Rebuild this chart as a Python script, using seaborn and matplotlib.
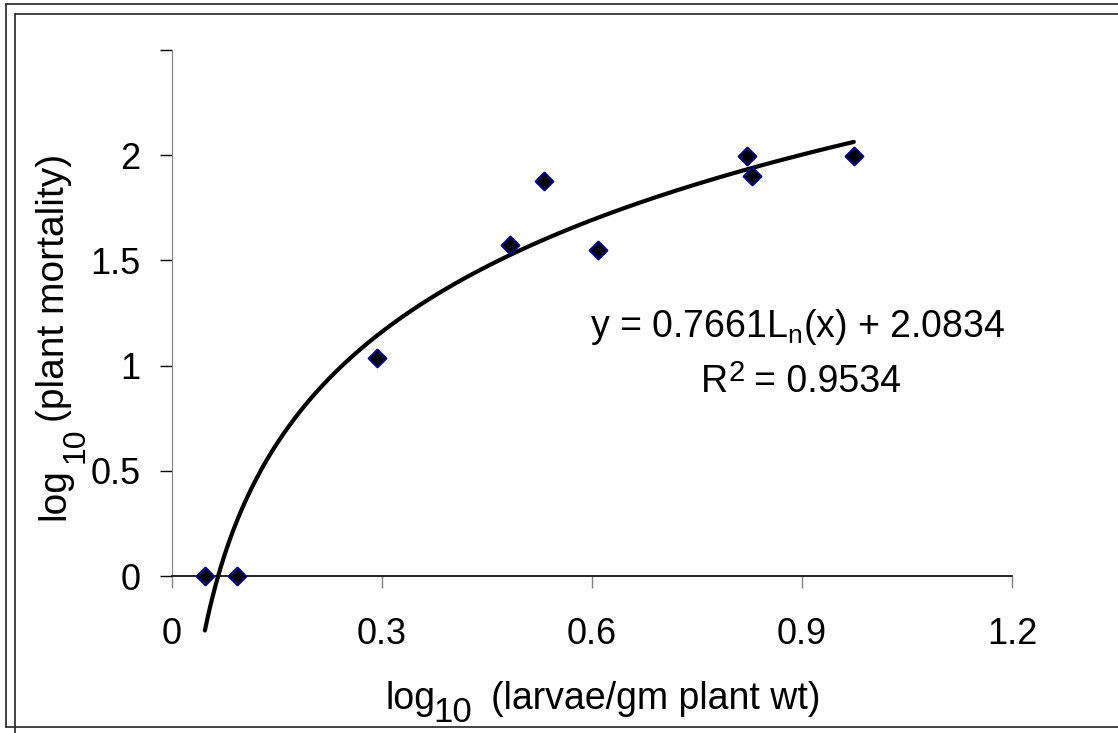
import matplotlib
matplotlib.use("Agg")
import matplotlib.pyplot as plt
from matplotlib.lines import Line2D
import numpy as np
import pandas as pd
import seaborn as sns

# values
log_larvae = [0.047, 0.093, 0.293, 0.483, 0.531, 0.609, 0.821, 0.829, 0.974]
log_mortality = [0.0, 0.0, 1.036, 1.572, 1.876, 1.549, 1.995, 1.90, 1.995]
slope = 0.7661
intercept = 2.0834
r_squared = 0.9534
x_ticks = [0, 0.3, 0.6, 0.9, 1.2]
x_tick_labels = ['0', '0.3', '0.6', '0.9', '1.2']
y_ticks = [0, 0.5, 1, 1.5, 2, 2.5]
y_tick_labels = ['0', '0.5', '1', '1.5', '2', '']

df = pd.DataFrame({'x': log_larvae, 'y': log_mortality})

sns.set_style('white')
plt.rcParams['font.family'] = ['Liberation Sans', 'DejaVu Sans']
plt.rcParams['mathtext.fontset'] = 'custom'
plt.rcParams['mathtext.rm'] = 'Liberation Sans'
plt.rcParams['mathtext.it'] = 'Liberation Sans'
plt.rcParams['text.color'] = 'black'

W, H = 1118, 733
fig = plt.figure(figsize=(W / 100, H / 100), dpi=100)
ax = fig.add_axes([172 / W, 1 - 576 / H, 840 / W, 526 / H])

# logarithmic trendline over the data range
xs = np.linspace(min(log_larvae), max(log_larvae), 300)
trend = pd.DataFrame({'x': xs, 'y': slope * np.log(xs) + intercept})
sns.lineplot(data=trend, x='x', y='y', ax=ax, color='black', linewidth=3.0,
             clip_on=False, zorder=2)

sns.scatterplot(data=df, x='x', y='y', ax=ax, marker='D', s=80,
                color='black', edgecolor='#000080', linewidth=1.6,
                clip_on=False, zorder=3)

ax.set_xlim(0, 1.2)
ax.set_ylim(0, 2.5)
ax.set_xticks(x_ticks)
ax.set_xticklabels(x_tick_labels)
ax.set_yticks(y_ticks)
ax.set_yticklabels(y_tick_labels)
ax.set_xlabel('')
ax.set_ylabel('')
ax.tick_params(axis='both', labelsize=26, direction='out', length=8.6, width=1,
               bottom=True, left=True)
ax.tick_params(axis='x', colors='#808080', labelcolor='black', pad=21)
ax.tick_params(axis='y', colors='black', labelcolor='black', pad=14)

for side in ['top', 'right']:
    ax.spines[side].set_visible(False)
ax.spines['left'].set_color('#808080')
ax.spines['bottom'].set_color('black')
ax.spines['bottom'].set_linewidth(1.2)


def px(x, y):
    return x / W, 1 - y / H


# axis titles with Excel-sized subscripts
fig.text(*px(386, 709), 'log', fontsize=27, ha='left', va='baseline')
fig.text(*px(433, 722), '10', fontsize=25, ha='left', va='baseline')
fig.text(*px(491, 709), '(larvae/gm plant wt)', fontsize=27, ha='left', va='baseline')

fig.text(*px(64, 520), 'log', fontsize=28, ha='left', va='baseline',
         rotation=90, rotation_mode='anchor')
fig.text(*px(84, 463), '10', fontsize=23, ha='left', va='baseline',
         rotation=90, rotation_mode='anchor')
fig.text(*px(64, 422), '(plant mortality)', fontsize=28, ha='left', va='baseline',
         rotation=90, rotation_mode='anchor')

# trendline equation
fig.text(*px(798, 337), f'y = {slope}L' + r'$_{\mathregular{n}}$' + f'(x) + {intercept}',
         fontsize=27, ha='center', va='baseline')
fig.text(*px(728, 392), 'R', fontsize=27, ha='right', va='baseline')
fig.text(*px(729, 381), '2', fontsize=21, ha='left', va='baseline')
fig.text(*px(754, 392), f'= {r_squared}', fontsize=27, ha='left', va='baseline')


# chart frames
def fline(x0, y0, x1, y1, c='#222222'):
    fig.add_artist(Line2D([x0 / W, x1 / W], [1 - y0 / H, 1 - y1 / H],
                          color=c, linewidth=1.2))


fline(6, 4, W, 4)
fline(6, 4, 6, 727)
fline(6, 727, W, 727)
fline(15, 14, W, 14)
fline(15, 14, 15, H)

fig.savefig('out.png', dpi=100)
